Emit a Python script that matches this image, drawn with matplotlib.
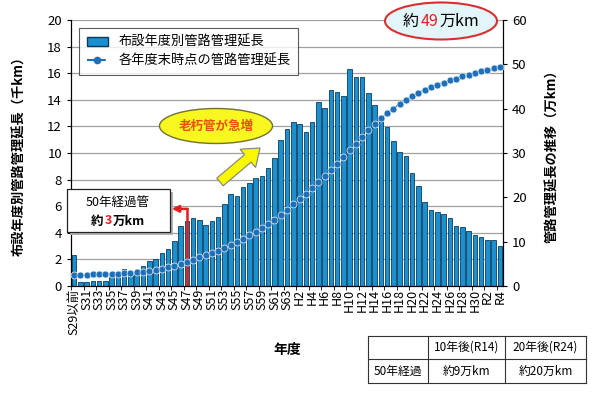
import matplotlib.pyplot as plt
import matplotlib.patches as mpatches
from matplotlib.lines import Line2D
from matplotlib.offsetbox import TextArea, HPacker, AnnotationBbox

plt.rcParams['font.family'] = ['Noto Sans CJK JP', 'DejaVu Sans']

# fiscal years (Showa / Heisei / Reiwa)
years = (['S29以前'] + ['S%d' % n for n in range(30, 64)]
         + ['H%d' % n for n in range(1, 31)] + ['R1', 'R2', 'R3', 'R4'])

# pipe length laid in each year (thousand km)
laid_km = [2.3, 0.3, 0.3, 0.35, 0.4, 0.4, 0.7, 0.9, 1.3, 1.0,
           1.0, 1.5, 1.85, 2.05, 2.45, 2.8, 3.4, 4.5, 4.9, 5.1,
           4.95, 4.6, 4.85, 5.2, 6.2, 6.9, 6.75, 7.45, 7.75, 8.15,
           8.3, 8.9, 9.6, 11.0, 11.8, 12.3, 12.15, 11.6, 12.35, 13.8,
           13.4, 14.75, 14.6, 14.25, 16.3, 15.7, 15.7, 14.5, 13.6, 12.6,
           11.95, 10.9, 10.1, 9.75, 8.5, 7.5, 6.3, 5.7, 5.55, 5.4,
           5.15, 4.5, 4.4, 4.1, 3.8, 3.7, 3.45, 3.45, 3.0]

# total managed length at end of each year (10 thousand km)
total_km = [2.5, 2.5, 2.55, 2.6, 2.6, 2.65, 2.7, 2.8, 2.9, 3.0,
            3.1, 3.25, 3.45, 3.65, 3.9, 4.2, 4.5, 4.95, 5.45, 5.95,
            6.45, 6.9, 7.4, 7.9, 8.55, 9.2, 9.9, 10.6, 11.4, 12.2,
            13.0, 13.9, 14.9, 16.0, 17.2, 18.4, 19.6, 20.8, 22.0, 23.4,
            24.7, 26.2, 27.6, 29.0, 30.6, 32.1, 33.6, 35.1, 36.5, 37.8,
            39.0, 40.0, 41.1, 42.0, 42.9, 43.6, 44.3, 44.9, 45.4, 45.9,
            46.4, 46.8, 47.3, 47.7, 48.0, 48.4, 48.7, 49.1, 49.5]

table_header = ['', '10年後(R14)', '20年後(R24)']
table_row = ['50年経過', '約9万km', '約20万km']

W, H = 600, 393


def fx(x, y):
    """pixel position (origin top-left) -> figure fraction"""
    return x / W, 1 - y / H


fig = plt.figure(figsize=(6.0, 3.93), dpi=100)
ax = fig.add_axes([71 / W, 1 - 286 / H, 432 / W, 266 / H])

x = list(range(len(years)))
ax.bar(x, laid_km, width=0.72, color='#1a90d0', edgecolor='#0e3a5a',
       linewidth=0.6, zorder=2)
ax.set_xlim(-0.5, len(years) - 0.5)
ax.set_ylim(0, 20)
ax.set_yticks(range(0, 21, 2))
ax.grid(axis='y', color='#a0a0a0', linewidth=0.9, zorder=0)
ax.set_axisbelow(True)
ax.set_xticks(x[::2])
ax.set_xticklabels(years[::2], rotation=90, fontsize=9)
ax.tick_params(axis='x', length=0, pad=2)
ax.set_xticks([i - 0.5 for i in x[::2]], minor=True)
ax.tick_params(axis='x', which='minor', length=3)
ax.tick_params(axis='y', labelsize=9.5, length=3)
ax.spines['top'].set_visible(False)
ax.set_ylabel('布設年度別管路管理延長（千km）', fontsize=9.5, fontweight='bold')
ax.yaxis.set_label_coords((26 - 71) / 432, 0.5)
ax.set_xlabel('年度', fontsize=10, fontweight='bold')
ax.xaxis.set_label_coords((287 - 71) / 432, (286 - 343) / 266)

ax2 = ax.twinx()
ax2.plot(x, total_km, linestyle='--', color='#1f6fb8', linewidth=1.0,
         marker='o', markersize=5, markeredgecolor='#e8f4fb',
         markeredgewidth=0.5, zorder=3)
ax2.set_ylim(0, 60)
ax2.set_yticks(range(0, 61, 10))
ax2.tick_params(axis='y', labelsize=9.5, length=3)
ax2.spines['top'].set_visible(False)
ax2.set_ylabel('管路管理延長の推移（万km）', fontsize=9.5,
               fontweight='bold', rotation=90)
ax2.yaxis.set_label_coords((545 - 71) / 432, 0.5)

# legend
handles = [mpatches.Patch(facecolor='#1a90d0', edgecolor='#0e3a5a'),
           Line2D([], [], linestyle='--', color='#1f6fb8', marker='o',
                  markersize=4.5)]
leg = ax2.legend(handles, ['布設年度別管路管理延長', '各年度末時点の管路管理延長'],
                 loc='upper left', bbox_to_anchor=(0.004, 0.993),
                 fontsize=9.5, frameon=True, fancybox=False,
                 edgecolor='#333333', handlelength=1.6, borderpad=0.55,
                 labelspacing=0.45)
leg.get_frame().set_linewidth(0.8)

# 50-year-old pipe marker (S47)
i47 = years.index('S47')
ax.plot([i47, i47], [0, 5.8], color='#e02020', linewidth=1.8, zorder=4)
ax.annotate('', xy=(i47 - 2.4, 5.8), xytext=(i47 + 0.1, 5.8),
            arrowprops=dict(arrowstyle='-|>', color='#e02020', lw=1.8,
                            mutation_scale=10, shrinkA=0, shrinkB=0),
            zorder=4)

box = mpatches.Rectangle(fx(67, 232), 103 / W, 43 / H, transform=fig.transFigure,
                         facecolor='white', edgecolor='#222222', linewidth=0.9,
                         zorder=5)
shadow = mpatches.Rectangle(fx(70, 235), 103 / W, 43 / H, transform=fig.transFigure,
                            facecolor='#b0b0b0', edgecolor='none', zorder=4.9)
fig.add_artist(shadow)
fig.add_artist(box)
fig.text(*fx(118, 202), '50年経過管', ha='center', va='center', fontsize=9,
         zorder=6)
line2 = HPacker(children=[TextArea('約', textprops=dict(fontsize=9, fontweight='bold')),
                          TextArea('3', textprops=dict(fontsize=9, fontweight='bold',
                                                       color='#e02020')),
                          TextArea('万km', textprops=dict(fontsize=9, fontweight='bold'))],
                align='baseline', pad=0, sep=1)
fig.add_artist(AnnotationBbox(line2, fx(118, 221), xycoords='figure fraction',
                              frameon=False, zorder=6))

# "約49万km" ellipse
e1 = mpatches.Ellipse(fx(441, 21), 112 / W, 37 / H, transform=fig.transFigure,
                      facecolor='#e2f5f8', edgecolor='#d83030', linewidth=1.5,
                      zorder=5)
fig.add_artist(e1)
big = HPacker(children=[TextArea('約', textprops=dict(fontsize=11.5)),
                        TextArea('49', textprops=dict(fontsize=11.5, color='#e02020')),
                        TextArea('万km', textprops=dict(fontsize=11.5))],
              align='baseline', pad=0, sep=1)
fig.add_artist(AnnotationBbox(big, fx(441, 21), xycoords='figure fraction',
                              frameon=False, zorder=6))

# "老朽管が急増" ellipse and arrow
e2 = mpatches.Ellipse(fx(216, 126), 113 / W, 35 / H, transform=fig.transFigure,
                      facecolor='#f8f820', edgecolor='#707030', linewidth=1.0,
                      zorder=5)
fig.add_artist(e2)
fig.text(*fx(216, 126), '老朽管が急増', ha='center', va='center', fontsize=9,
         fontweight='bold', color='#e8500c', zorder=6)

arrow = mpatches.FancyArrow(2.20, (H - 182) / 100, 0.40, 0.34, width=0.10,
                            head_width=0.24, head_length=0.16,
                            length_includes_head=True,
                            transform=fig.dpi_scale_trans,
                            facecolor='#f8f800', edgecolor='#808080',
                            linewidth=0.8, zorder=5)
fig.add_artist(arrow)

# summary table
tx = [368, 428, 505, 586]
ty = [336, 359, 383]
for yy in ty:
    fig.add_artist(Line2D([tx[0] / W, tx[-1] / W], [1 - yy / H] * 2,
                          transform=fig.transFigure, color='#333333', lw=0.8))
for xx in tx:
    fig.add_artist(Line2D([xx / W] * 2, [1 - ty[0] / H, 1 - ty[-1] / H],
                          transform=fig.transFigure, color='#333333', lw=0.8))
for row, (y0, y1) in zip([table_header, table_row], [(ty[0], ty[1]), (ty[1], ty[2])]):
    for c, txt in enumerate(row):
        fig.text(*fx((tx[c] + tx[c + 1]) / 2, (y0 + y1) / 2), txt,
                 ha='center', va='center', fontsize=8.5)

fig.savefig('out.png', dpi=100)
